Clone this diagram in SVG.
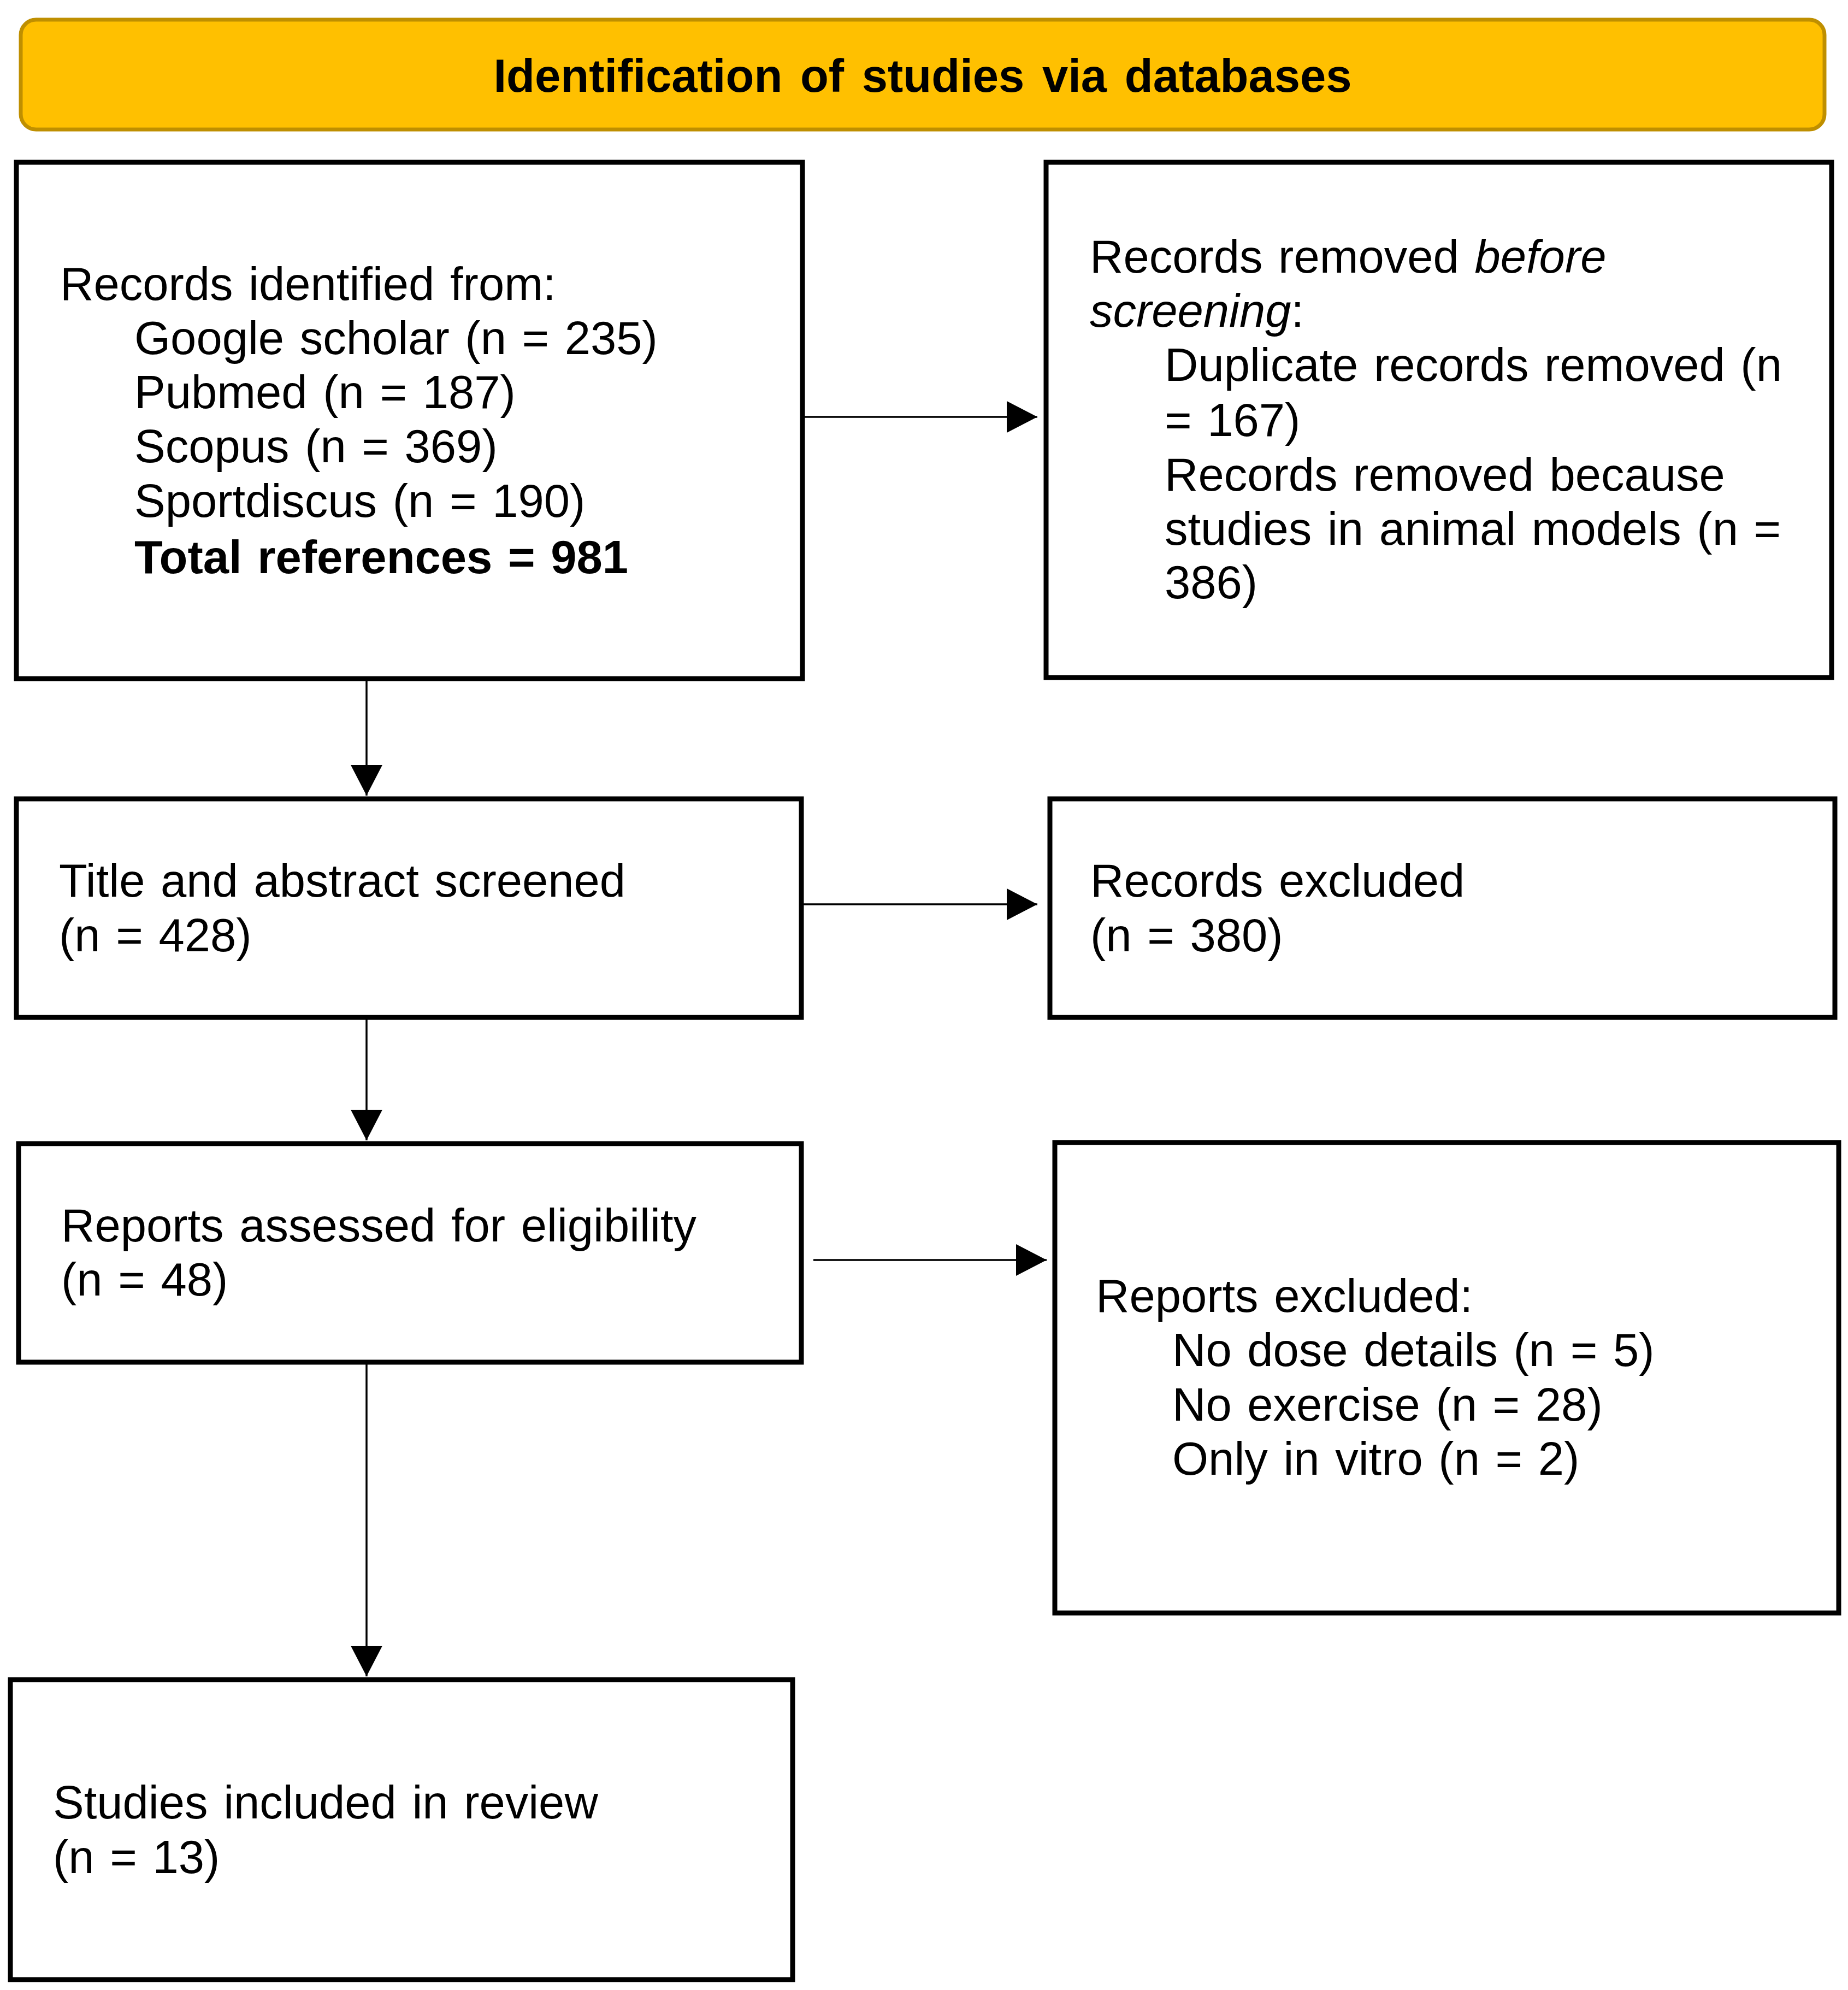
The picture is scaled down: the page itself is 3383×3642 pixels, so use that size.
<svg xmlns="http://www.w3.org/2000/svg" width="3383" height="3642" viewBox="0 0 3383 3642">
<style>
.box{fill:#ffffff;stroke:#000000;stroke-width:9}
.t{font-family:"Liberation Sans",Arial,sans-serif;font-size:85px;fill:#000000;word-spacing:5px}
.b{font-weight:bold}
.i{font-style:italic}
.c{fill:none;stroke:#000000;stroke-width:3.5}
</style>
<defs>
<marker id="ah" markerUnits="userSpaceOnUse" markerWidth="58" markerHeight="60" refX="56" refY="29" orient="auto" viewBox="0 0 58 60">
<path d="M0,0 L56,29 L0,58 z" fill="#000000"/>
</marker>
</defs>
<rect width="3383" height="3642" fill="#ffffff"/>
<g id="header">
<rect x="38" y="36" width="3302" height="201" rx="28" ry="28" fill="#FFC000" stroke="#BF8F00" stroke-width="7"/>
<text class="t b" x="1689" y="168" font-size="87" text-anchor="middle" style="word-spacing:9px">Identification of studies via databases</text>
</g>
<g id="records-identified">
<rect class="box" x="30" y="297" width="1439" height="945"/>
<text class="t" x="110" y="549">Records identified from:</text>
<text class="t" x="246" y="648">Google scholar (n = 235)</text>
<text class="t" x="246" y="747">Pubmed (n = 187)</text>
<text class="t" x="246" y="846">Scopus (n = 369)</text>
<text class="t" x="246" y="946">Sportdiscus (n = 190)</text>
<text class="t b" x="246" y="1049">Total references = 981</text>
</g>
<g id="records-removed">
<rect class="box" x="1915" y="297" width="1438" height="943"/>
<text class="t" x="1995" y="499">Records removed <tspan class="i">before</tspan></text>
<text class="t" x="1995" y="598"><tspan class="i">screening</tspan>:</text>
<text class="t" x="2132" y="697">Duplicate records removed (n</text>
<text class="t" x="2132" y="798">= 167)</text>
<text class="t" x="2132" y="898">Records removed because</text>
<text class="t" x="2132" y="997">studies in animal models (n =</text>
<text class="t" x="2132" y="1095">386)</text>
</g>
<g id="title-abstract">
<rect class="box" x="30" y="1462" width="1437" height="400"/>
<text class="t" x="108" y="1641">Title and abstract screened</text>
<text class="t" x="108" y="1741">(n = 428)</text>
</g>
<g id="records-excluded">
<rect class="box" x="1922" y="1462" width="1437" height="400"/>
<text class="t" x="1996" y="1641">Records excluded</text>
<text class="t" x="1996" y="1741">(n = 380)</text>
</g>
<g id="reports-assessed">
<rect class="box" x="34" y="2093" width="1433" height="400"/>
<text class="t" x="112" y="2272">Reports assessed for eligibility</text>
<text class="t" x="112" y="2371">(n = 48)</text>
</g>
<g id="reports-excluded">
<rect class="box" x="1931" y="2091" width="1435" height="861"/>
<text class="t" x="2006" y="2401">Reports excluded:</text>
<text class="t" x="2146" y="2500">No dose details (n = 5)</text>
<text class="t" x="2146" y="2600">No exercise (n = 28)</text>
<text class="t" x="2146" y="2699">Only in vitro (n = 2)</text>
</g>
<g id="studies-included">
<rect class="box" x="19" y="3074" width="1432" height="549"/>
<text class="t" x="97" y="3328">Studies included in review</text>
<text class="t" x="97" y="3428">(n = 13)</text>
</g>
<g id="connectors">
<path class="c" d="M1470,763 H1899" marker-end="url(#ah)"/>
<path class="c" d="M671,1246 V1456" marker-end="url(#ah)"/>
<path class="c" d="M1471,1655 H1899" marker-end="url(#ah)"/>
<path class="c" d="M671,1866 V2087" marker-end="url(#ah)"/>
<path class="c" d="M1489,2306 H1916" marker-end="url(#ah)"/>
<path class="c" d="M671,2497 V3068" marker-end="url(#ah)"/>
</g>
</svg>
